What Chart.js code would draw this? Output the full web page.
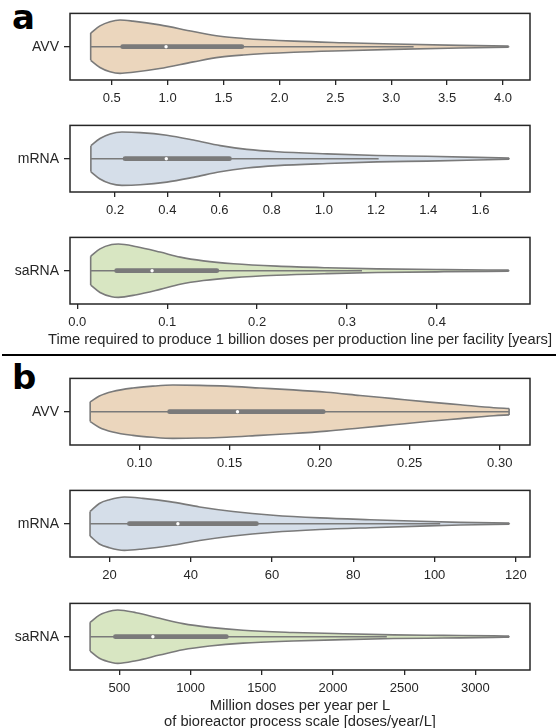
<!DOCTYPE html>
<html>
<head>
<meta charset="utf-8">
<script src="https://cdn.jsdelivr.net/npm/chart.js@4.4.1/dist/chart.umd.min.js"></script>
<style>
  html, body { margin: 0; padding: 0; background: #fff; overflow: hidden; }
  #page { position: relative; width: 560px; height: 728px; overflow: hidden; }
  #page canvas { position: absolute; left: 0; }
  .tag { position: absolute; font-family: "DejaVu Sans", sans-serif; font-weight: bold; font-size: 34px; line-height: 34px; color: #000; }
  #rule { position: absolute; left: 2px; top: 354px; width: 554px; height: 2px; background: #000; }
</style>
</head>
<body>
<div id="page">
  <div class="tag" style="left:12px; top:0px">a</div>
  <div class="tag" style="left:12px; top:360px">b</div>
  <div id="rule"></div>
</div>
<script>
const categories = ['AVV', 'mRNA', 'saRNA'];

// a: time to produce 1 billion doses per line per facility [years]
// density is relative (peak = 1), box = [whisker low, q1, median, q3, whisker high]
const timeAvvX = [0.312, 0.395, 0.485, 0.575, 0.69, 0.93, 1.23, 1.47, 1.68, 2.13, 2.57, 3.02, 3.62, 4.05];
const timeAvvDensity = [0.51, 0.78, 0.94, 1.0, 0.96, 0.82, 0.57, 0.39, 0.31, 0.21, 0.15, 0.10, 0.05, 0.02];
const timeAvvBox = [0.312, 0.598, 0.986, 1.664, 3.20];
const timeAvvTicks = [0.5, 1.0, 1.5, 2.0, 2.5, 3.0, 3.5, 4.0];

const timeMrnaX = [0.107, 0.142, 0.181, 0.226, 0.296, 0.398, 0.500, 0.603, 0.705, 0.820, 1.012, 1.204, 1.396, 1.587, 1.71];
const timeMrnaDensity = [0.49, 0.76, 0.93, 1.0, 0.98, 0.88, 0.70, 0.49, 0.35, 0.26, 0.18, 0.12, 0.09, 0.05, 0.02];
const timeMrnaBox = [0.107, 0.238, 0.396, 0.638, 1.21];
const timeMrnaTicks = [0.2, 0.4, 0.6, 0.8, 1.0, 1.2, 1.4, 1.6];

const timeSarnaX = [0.0149, 0.0253, 0.0383, 0.0457, 0.0661, 0.0921, 0.1144, 0.1403, 0.1737, 0.2220, 0.2777, 0.3334, 0.4076, 0.480];
const timeSarnaDensity = [0.54, 0.82, 0.98, 1.0, 0.90, 0.70, 0.51, 0.37, 0.26, 0.17, 0.11, 0.07, 0.04, 0.02];
const timeSarnaBox = [0.0149, 0.0438, 0.0832, 0.1552, 0.3167];
const timeSarnaTicks = [0.0, 0.1, 0.2, 0.3, 0.4];

// b: million doses per year per L of bioreactor scale
const doseAvvX = [0.0726, 0.0777, 0.0851, 0.0963, 0.1074, 0.1185, 0.1334, 0.1483, 0.1668, 0.1853, 0.2039, 0.2224, 0.2410, 0.2596, 0.2781, 0.2967, 0.3052];
const doseAvvDensity = [0.37, 0.59, 0.76, 0.89, 0.96, 1.0, 0.99, 0.96, 0.89, 0.82, 0.73, 0.61, 0.49, 0.37, 0.26, 0.15, 0.12];
const doseAvvBox = [0.0726, 0.1167, 0.1544, 0.2020, 0.3052];
const doseAvvTicks = [0.10, 0.15, 0.20, 0.25, 0.30];

const doseMrnaX = [15.24, 17.53, 20.0, 23.70, 28.22, 34.80, 42.20, 50.42, 60.28, 71.80, 84.13, 96.47, 106.33, 118.4];
const doseMrnaDensity = [0.46, 0.76, 0.90, 1.0, 0.95, 0.83, 0.63, 0.46, 0.32, 0.22, 0.15, 0.09, 0.05, 0.02];
const doseMrnaBox = [15.24, 24.93, 36.86, 56.18, 101.4];
const doseMrnaTicks = [20, 40, 60, 80, 100, 120];

const doseSarnaX = [294, 359, 453, 488, 617, 782, 946, 1134, 1368, 1720, 2073, 2425, 2777, 3129, 3237];
const doseSarnaDensity = [0.54, 0.81, 0.98, 1.0, 0.90, 0.69, 0.49, 0.35, 0.24, 0.16, 0.11, 0.07, 0.05, 0.03, 0.02];
const doseSarnaBox = [294, 472, 735, 1251, 2378];
const doseSarnaTicks = [500, 1000, 1500, 2000, 2500, 3000];

const timeTitle = ['Time required to produce 1 billion doses per production line per facility [years]'];
const doseTitle = ['Million doses per year per L', 'of bioreactor process scale [doses/year/L]'];

const fills = ['#ebd6bd', '#d5dee9', '#d8e6c2'];
const gray = '#7a7a7a';
const ink = '#262626';
const fontFamily = '"Liberation Sans", Arial, sans-serif';

Chart.defaults.font.family = fontFamily;
Chart.defaults.font.size = 13;
Chart.defaults.color = ink;

const AREA_H = 67;

const panels = [
  { top: 13, cat: 0, x: timeAvvX, d: timeAvvDensity, box: timeAvvBox, ticks: timeAvvTicks, dec: 1, min: 0.127, max: 4.241 },
  { top: 125, cat: 1, x: timeMrnaX, d: timeMrnaDensity, box: timeMrnaBox, ticks: timeMrnaTicks, dec: 1, min: 0.027, max: 1.79 },
  { top: 237, cat: 2, x: timeSarnaX, d: timeSarnaDensity, box: timeSarnaBox, ticks: timeSarnaTicks, dec: 1, min: -0.0081, max: 0.5036, title: timeTitle, h: 46 },
  { top: 378, cat: 0, x: doseAvvX, d: doseAvvDensity, box: doseAvvBox, ticks: doseAvvTicks, dec: 2, min: 0.0614, max: 0.3168 },
  { top: 490, cat: 1, x: doseMrnaX, d: doseMrnaDensity, box: doseMrnaBox, ticks: doseMrnaTicks, dec: 0, min: 10.31, max: 123.5 },
  { top: 603, cat: 2, x: doseSarnaX, d: doseSarnaDensity, box: doseSarnaBox, ticks: doseSarnaTicks, dec: 0, min: 152.8, max: 3383.8, title: doseTitle, h: 60 }
];

const frame = {
  id: 'frame',
  afterDatasetsDraw(chart) {
    const { ctx, chartArea: a } = chart;
    ctx.save();
    ctx.strokeStyle = ink;
    ctx.lineWidth = 1.5;
    ctx.strokeRect(a.left, a.top, a.right - a.left, a.bottom - a.top);
    ctx.restore();
  }
};

// x-axis title drawn free of the axis width (the reference title runs past the plot box)
const xTitle = {
  id: 'xTitle',
  afterDraw(chart, args, opts) {
    if (!opts.text) return;
    const { ctx, chartArea: a } = chart;
    ctx.save();
    ctx.fillStyle = ink;
    ctx.font = opts.size + 'px ' + fontFamily;
    ctx.textAlign = 'center';
    ctx.textBaseline = 'middle';
    opts.text.forEach((t, i) => {
      ctx.fillText(t, (a.left + a.right) / 2, a.bottom + opts.offset + i * opts.lineHeight);
    });
    ctx.restore();
  }
};

function line(data, width, extra) {
  return Object.assign({ data: data, borderColor: gray, borderWidth: width, pointRadius: 0, fill: false }, extra || {});
}

function violinSets(p) {
  const half = 0.4;
  const up = p.x.map((v, i) => ({ x: v, y: p.d[i] * half }));
  const lo = p.x.map((v, i) => ({ x: v, y: -p.d[i] * half }));
  const n = p.x.length - 1;
  const b = p.box;
  return [
    { data: [{ x: b[2], y: 0 }], showLine: false, pointRadius: 1.7, pointBackgroundColor: '#ffffff', pointBorderWidth: 0 },
    line([{ x: b[1], y: 0 }, { x: b[3], y: 0 }], 4.8, { borderCapStyle: 'round' }),
    line([{ x: b[0], y: 0 }, { x: b[4], y: 0 }], 1.6),
    line([up[0], lo[0]], 1.6),
    line([up[n], lo[n]], 1.6),
    line(up, 1.6, { fill: '+1', backgroundColor: fills[p.cat], cubicInterpolationMode: 'monotone' }),
    line(lo, 1.6, { cubicInterpolationMode: 'monotone' })
  ];
}

function draw(cnv, p, axisH) {
  return new Chart(cnv, {
    type: 'line',
    data: { datasets: violinSets(p) },
    options: {
      responsive: false,
      animation: false,
      events: [],
      layout: { autoPadding: false, padding: { top: 4, right: 30, bottom: 0, left: 0 } },
      plugins: {
        legend: { display: false },
        tooltip: { enabled: false },
        filler: { drawTime: 'beforeDatasetsDraw' },
        xTitle: { text: p.title, size: 14.7, offset: 36, lineHeight: 16 }
      },
      scales: {
        x: {
          type: 'linear',
          min: p.min,
          max: p.max,
          afterBuildTicks: s => { s.ticks = p.ticks.map(v => ({ value: v })); },
          afterFit: s => { s.height = axisH; },
          ticks: { callback: v => Number(v).toFixed(p.dec), padding: 6, maxRotation: 0, autoSkip: false, color: ink },
          grid: { drawOnChartArea: false, drawTicks: true, tickLength: 5, color: ink, lineWidth: 1.3 },
          border: { display: false }
        },
        y: {
          type: 'linear',
          min: -0.5,
          max: 0.5,
          afterBuildTicks: s => { s.ticks = [{ value: 0 }]; },
          afterFit: s => { s.width = 70; },
          ticks: { callback: () => categories[p.cat], padding: 5, color: ink, font: { size: 14 } },
          grid: { drawOnChartArea: false, drawTicks: true, tickLength: 6, color: ink, lineWidth: 1.3 },
          border: { display: false }
        }
      }
    },
    plugins: [frame, xTitle]
  });
}

const page = document.getElementById('page');

panels.forEach(p => {
  const axisH = p.h || 30;
  const cnv = document.createElement('canvas');
  page.appendChild(cnv);
  let h = 4 + AREA_H + axisH;
  cnv.width = 560;
  cnv.height = h;
  let chart = draw(cnv, p, axisH);
  // the axes may eat a few pixels of padding; grow the canvas so the plot box keeps its height
  const grow = AREA_H - Math.round(chart.chartArea.bottom - chart.chartArea.top);
  if (grow !== 0) {
    chart.destroy();
    cnv.width = 560;
    cnv.height = h + grow;
    chart = draw(cnv, p, axisH);
  }
  cnv.style.top = (p.top - Math.round(chart.chartArea.top)) + 'px';
});
</script>
</body>
</html>
